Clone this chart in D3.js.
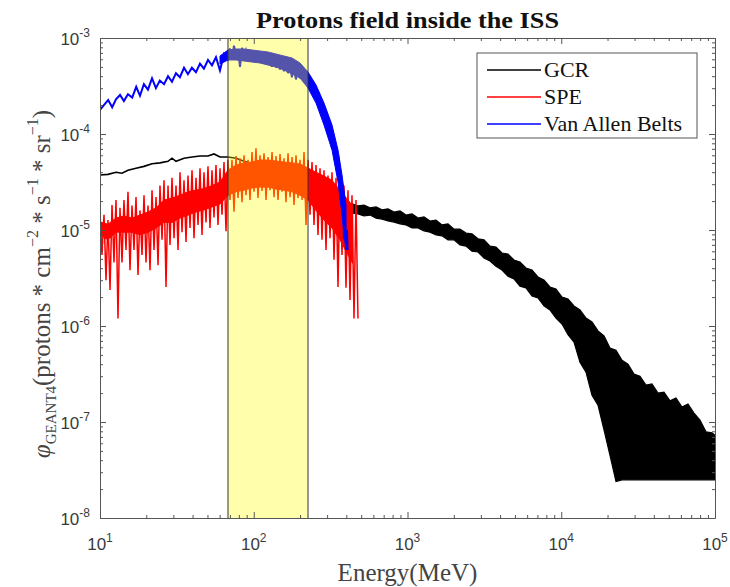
<!DOCTYPE html>
<html>
<head>
<meta charset="utf-8">
<script src="https://cdn.jsdelivr.net/npm/d3@7"></script>
<style>
  body { margin: 0; background: #fff; }
  svg { display: block; }
  .axis path, .axis line { stroke: #555; stroke-width: 1; }
</style>
</head>
<body>
<div id="chart"></div>
<script>
// ticks
const X_TICKS = [10, 100, 1000, 10000, 100000];
const X_TICK_EXP = ["1", "2", "3", "4", "5"];
const Y_TICKS = [1e-8, 1e-7, 1e-6, 1e-5, 1e-4, 1e-3];
const Y_TICK_EXP = ["-8", "-7", "-6", "-5", "-4", "-3"];

// highlighted energy window (MeV)
const BAND = [68, 225.4];

const LEGEND_LABELS = ["GCR", "SPE", "Van Allen Belts"];
const SERIES_COLORS = ["#000000", "#ff0000", "#0000ff"];

// GCR, low energy part [MeV, flux] (hidden under SPE above ~100 MeV)
const gcrHead = [
  [10.0, 3.74e-5], [11.27, 3.8e-5], [12.71, 4.0e-5], [13.9, 3.9e-5], [15.21, 4.2e-5],
  [17.15, 4.4e-5], [19.33, 4.6e-5], [21.79, 4.9e-5], [24.56, 5.0e-5], [27.69, 5.2e-5],
  [29.4, 5.6e-5], [31.22, 5.2e-5], [35.19, 5.6e-5], [39.67, 5.75e-5], [44.72, 5.9e-5],
  [50.4, 5.9e-5], [55.14, 6.2e-5], [60.33, 5.75e-5], [68.01, 5.75e-5], [76.67, 5.6e-5],
  [86.43, 5.2e-5], [94.56, 5.0e-5], [100.4, 4.8e-5]
];

// GCR, high energy part: energies with upper / lower edges of the noisy band
const gcrTailE = [
  435.5, 476.4, 521.3, 570.4, 624.0, 682.6, 746.8, 817.1, 893.9, 977.8,
  1070, 1170, 1281, 1401, 1533, 1676, 1834, 2006, 2195, 2401,
  2627, 2874, 3144, 3439, 3762, 4116, 4503, 4926, 5389, 5896,
  6450, 7056, 7719, 8445, 9239, 10113, 11063, 12104, 13242, 14487,
  15849, 17338, 18969, 20752, 22703, 24836, 27172, 29725, 32520, 35576,
  38920, 42580, 46581, 50962, 55752, 60995, 66728, 72999, 79862, 87370,
  95588, 100000
];
const gcrTailHi = [
  1.87e-5, 1.78e-5, 1.82e-5, 1.70e-5, 1.74e-5, 1.62e-5, 1.66e-5, 1.54e-5, 1.58e-5, 1.43e-5,
  1.47e-5, 1.33e-5, 1.37e-5, 1.24e-5, 1.27e-5, 1.13e-5, 1.16e-5, 1.02e-5, 1.02e-5, 9.3e-6,
  9.1e-6, 8.1e-6, 7.9e-6, 6.8e-6, 6.65e-6, 5.76e-6, 5.62e-6, 4.87e-6, 4.64e-6, 4.02e-6,
  3.83e-6, 3.24e-6, 3.01e-6, 2.55e-6, 2.43e-6, 2.0e-6, 1.91e-6, 1.62e-6, 1.47e-6, 1.21e-6,
  1.10e-6, 8.9e-7, 7.9e-7, 5.9e-7, 5.6e-7, 4.4e-7, 4.0e-7, 3.16e-7, 3.0e-7, 2.43e-7,
  2.49e-7, 2.0e-7, 2.05e-7, 1.66e-7, 1.78e-7, 1.43e-7, 1.54e-7, 1.24e-7, 1.05e-7, 7.9e-8,
  7.7e-8, 7.3e-8
];
const gcrTailLo = [
  1.50e-5, 1.47e-5, 1.40e-5, 1.43e-5, 1.33e-5, 1.30e-5, 1.24e-5, 1.21e-5, 1.16e-5, 1.13e-5,
  1.05e-5, 1.05e-5, 9.8e-6, 9.5e-6, 8.9e-6, 8.7e-6, 7.9e-6, 7.9e-6, 7.0e-6, 6.8e-6,
  6.0e-6, 5.9e-6, 5.1e-6, 4.75e-6, 4.2e-6, 3.83e-6, 3.3e-6, 3.1e-6, 2.6e-6, 2.5e-6,
  2.05e-6, 1.96e-6, 1.62e-6, 1.47e-6, 1.21e-6, 1.05e-6, 8.1e-7, 6.8e-7, 4.2e-7, 3.3e-7,
  1.9e-7, 1.5e-7, 8.3e-8, 4.5e-8, 2.4e-8, 2.5e-8, 2.5e-8, 2.5e-8, 2.5e-8, 2.5e-8,
  2.5e-8, 2.5e-8, 2.5e-8, 2.5e-8, 2.5e-8, 2.5e-8, 2.5e-8, 2.5e-8, 2.5e-8, 2.5e-8,
  2.5e-8, 2.5e-8
];

// SPE dense core: energies with upper / lower edges
const speCoreE = [
  10.0, 11.27, 12.71, 14.32, 16.15, 18.2, 20.52, 23.14, 26.08, 29.4,
  33.15, 37.36, 42.12, 47.47, 53.51, 60.33, 68.01, 76.67, 86.43, 97.44,
  109.8, 123.8, 139.6, 157.4, 177.4, 200.0, 225.4, 254.1, 286.4, 322.9,
  363.9, 410.2, 440.0
];
const speCoreHi = [
  1.21e-5, 1.15e-5, 1.33e-5, 1.4e-5, 1.33e-5, 1.43e-5, 1.54e-5, 1.7e-5, 2.05e-5, 2.15e-5,
  2.3e-5, 2.5e-5, 2.6e-5, 2.7e-5, 2.9e-5, 3.16e-5, 4.2e-5, 4.75e-5, 5.0e-5, 5.1e-5,
  5.36e-5, 5.36e-5, 5.23e-5, 5.1e-5, 5.0e-5, 4.87e-5, 4.42e-5, 4.0e-5, 3.65e-5, 3.3e-5,
  2.6e-5, 2.05e-5, 1.8e-5
];
const speCoreLo = [
  8.9e-6, 7.9e-6, 9.5e-6, 9.5e-6, 9.5e-6, 8.9e-6, 9.5e-6, 1.05e-5, 1.2e-5, 1.2e-5,
  1.33e-5, 1.43e-5, 1.54e-5, 1.62e-5, 1.74e-5, 1.87e-5, 2.3e-5, 2.5e-5, 2.6e-5, 2.74e-5,
  2.8e-5, 2.8e-5, 2.67e-5, 2.6e-5, 2.5e-5, 2.3e-5, 2.05e-5, 1.6e-5, 1.27e-5, 1.05e-5,
  7.9e-6, 5.5e-6, 4.5e-6
];

// SPE [MeV, flux], read as alternating peaks / dips
const spePoints = [
  [10.0, 1.53e-5], [10.3, 5.5e-6], [10.62, 1.44e-5], [10.94, 3.0e-6], [11.27, 1.27e-5],
  [11.62, 2.37e-6], [11.97, 1.82e-5], [12.33, 4.6e-6], [12.71, 2.05e-5], [13.09, 1.2e-6],
  [13.49, 1.7e-5], [13.9, 4.6e-6], [14.32, 2.05e-5], [14.76, 6.2e-6], [15.21, 2.5e-5],
  [15.67, 3.8e-6], [16.15, 1.8e-5], [16.64, 6.2e-6], [17.15, 2.2e-5], [17.67, 3.4e-6],
  [18.2, 1.6e-5], [18.76, 5.5e-6], [19.33, 2.3e-5], [19.92, 4.6e-6], [20.52, 1.8e-5],
  [21.15, 3.8e-6], [21.79, 2.6e-5], [22.45, 6.2e-6], [23.14, 2.2e-5], [23.84, 4.3e-6],
  [24.56, 2.9e-5], [25.31, 7.9e-6], [26.08, 3.3e-5], [26.88, 2.55e-6], [27.69, 2.9e-5],
  [28.54, 7.0e-6], [29.4, 3.5e-5], [30.3, 8.2e-6], [31.22, 2.9e-5], [32.17, 6.2e-6],
  [33.15, 4.0e-5], [34.15, 9.5e-6], [35.19, 3.3e-5], [36.26, 7.5e-6], [37.36, 3.7e-5],
  [38.5, 1.05e-5], [39.67, 4.2e-5], [40.87, 8.2e-6], [42.12, 3.5e-5], [43.4, 1.13e-5],
  [44.72, 4.4e-5], [46.07, 8.9e-6], [47.47, 4.0e-5], [48.92, 1.2e-5], [50.4, 4.6e-5],
  [51.94, 1.05e-5], [53.51, 4.2e-5], [55.14, 1.35e-5], [56.82, 4.75e-5], [58.55, 1.13e-5],
  [60.33, 4.4e-5], [62.16, 1.44e-5], [64.05, 5.1e-5], [66.0, 9.7e-6], [68.01, 5.4e-5],
  [70.08, 2.05e-5], [72.21, 5.4e-5], [74.4, 1.55e-5], [76.67, 5.9e-5], [79.0, 2.15e-5],
  [81.4, 5.6e-5], [83.88, 1.95e-5], [86.43, 6.0e-5], [89.06, 2.3e-5], [91.77, 5.4e-5],
  [94.56, 2.05e-5], [97.44, 6.5e-5], [100.4, 2.5e-5], [103.4, 7.1e-5], [106.6, 2.15e-5],
  [109.8, 6.0e-5], [113.2, 2.55e-5], [116.6, 6.3e-5], [120.2, 2.05e-5], [123.8, 5.75e-5],
  [127.6, 2.6e-5], [131.5, 6.5e-5], [135.5, 2.2e-5], [139.6, 5.9e-5], [143.8, 2.05e-5],
  [148.2, 6.2e-5], [152.7, 2.5e-5], [157.4, 5.6e-5], [162.1, 1.95e-5], [167.1, 6.3e-5],
  [172.2, 2.2e-5], [177.4, 5.75e-5], [182.8, 1.82e-5], [188.3, 6.0e-5], [194.1, 2.15e-5],
  [200.0, 5.4e-5], [206.1, 2.05e-5], [212.3, 6.5e-5], [218.8, 1.13e-5], [225.4, 5.4e-5],
  [232.3, 1.44e-5], [239.3, 5.1e-5], [246.6, 1.13e-5], [254.1, 4.75e-5], [261.8, 8.9e-6],
  [269.8, 4.4e-5], [278.0, 7.9e-6], [286.4, 4.2e-5], [295.1, 6.2e-6], [304.1, 3.7e-5],
  [313.3, 8.2e-6], [322.9, 4.0e-5], [332.7, 4.9e-6], [342.8, 3.5e-5], [353.2, 2.55e-6],
  [363.9, 3.3e-5], [375.0, 5.5e-6], [386.4, 2.9e-5], [398.1, 2.5e-6], [410.2, 2.6e-5],
  [422.7, 1.87e-6], [435.5, 2.3e-5], [448.8, 1.2e-6], [462.4, 2.05e-5], [476.4, 1.2e-6]
];

// Van Allen Belts dense core: energies with upper / lower edges
const vabCoreE = [
  60.33, 68.01, 76.67, 86.43, 97.44, 109.8, 123.8, 139.6, 157.4, 177.4,
  200.0, 225.4, 254.1, 286.4, 322.9, 353.2, 375.0, 398.1
];
const vabCoreHi = [
  6.49e-4, 7.5e-4, 7.68e-4, 7.68e-4, 7.5e-4, 7.32e-4, 7.15e-4, 6.81e-4, 6.49e-4, 6.19e-4,
  5.49e-4, 4.42e-4, 3.24e-4, 2.1e-4, 1.24e-4, 6.81e-5, 3.74e-5, 1.82e-5
];
const vabCoreLo = [
  5.36e-4, 5.9e-4, 5.9e-4, 5.76e-4, 5.62e-4, 5.49e-4, 5.23e-4, 5.0e-4, 4.64e-4, 4.22e-4,
  3.83e-4, 3.01e-4, 2.1e-4, 1.24e-4, 6.81e-5, 3.16e-5, 1.44e-5, 6.2e-6
];

// Van Allen Belts [MeV, flux]
const vabPoints = [
  [10.0, 1.78e-4], [10.6, 2.0e-4], [11.3, 2.26e-4], [12.0, 1.9e-4], [12.7, 2.3e-4],
  [13.5, 2.55e-4], [14.3, 2.2e-4], [15.2, 2.6e-4], [16.2, 2.4e-4], [17.2, 3.1e-4],
  [18.2, 2.5e-4], [19.3, 3.3e-4], [20.5, 2.9e-4], [21.8, 3.8e-4], [23.1, 3.0e-4],
  [24.5, 3.6e-4], [26.1, 3.3e-4], [27.7, 4.0e-4], [29.4, 3.5e-4], [31.2, 4.3e-4],
  [33.1, 3.9e-4], [35.2, 4.9e-4], [37.3, 4.2e-4], [39.6, 4.9e-4], [42.1, 4.4e-4],
  [44.7, 5.4e-4], [47.4, 4.8e-4], [50.4, 5.9e-4], [53.5, 5.2e-4], [56.8, 6.3e-4],
  [60.3, 4.6e-4], [64.0, 6.8e-4], [68.0, 6.0e-4], [69.9, 7.8e-4], [72.2, 6.2e-4],
  [74.4, 8.3e-4], [76.6, 6.6e-4], [79.0, 7.6e-4], [81.4, 5.0e-4], [83.9, 7.9e-4],
  [86.4, 6.3e-4], [89.0, 7.4e-4], [91.7, 6.0e-4], [94.5, 7.5e-4], [97.4, 5.8e-4],
  [100, 7.2e-4], [103, 5.7e-4], [107, 7.0e-4], [110, 5.5e-4], [113, 7.1e-4],
  [117, 5.4e-4], [120, 6.8e-4], [124, 5.3e-4], [127, 6.6e-4], [131, 5.0e-4],
  [136, 6.5e-4], [140, 4.9e-4], [144, 6.3e-4], [148, 4.7e-4], [153, 6.0e-4],
  [157, 4.5e-4], [162, 5.7e-4], [167, 4.3e-4], [172, 5.4e-4], [177, 3.9e-4],
  [182, 5.0e-4], [188, 3.7e-4], [194, 4.6e-4], [200, 3.8e-4], [206, 5.0e-4],
  [212, 3.6e-4], [218, 4.6e-4], [225, 3.1e-4], [232, 4.0e-4], [239, 2.8e-4],
  [246, 3.4e-4], [254, 2.3e-4], [262, 2.8e-4], [270, 1.85e-4], [278, 2.2e-4],
  [286, 1.4e-4], [295, 1.7e-4], [304, 1.0e-4], [313, 1.25e-4], [323, 7.0e-5],
  [333, 8.5e-5], [343, 5.0e-5], [354, 6.0e-5], [364, 3.0e-5], [370, 3.4e-5],
  [376, 1.6e-5], [381, 2.2e-5], [386, 8.0e-6], [392, 1.3e-5], [398, 6.2e-6],
  [404, 1.0e-5], [408, 6.2e-6]
];

const width = 730;
const height = 587;
const plot = { left: 100, right: 715, top: 38, bottom: 518 };
const SERIF = "'Liberation Serif', 'Times New Roman', serif";
const SANS = "'Liberation Sans', Arial, sans-serif";

const svg = d3
  .select("#chart")
  .append("svg")
  .attr("width", width)
  .attr("height", height);

const x = d3.scaleLog().domain([10, 1e5]).range([plot.left, plot.right]);
const y = d3.scaleLog().domain([1e-8, 1e-3]).range([plot.bottom, plot.top]);

svg
  .append("clipPath")
  .attr("id", "clip")
  .append("rect")
  .attr("x", plot.left)
  .attr("y", plot.top)
  .attr("width", plot.right - plot.left)
  .attr("height", plot.bottom - plot.top);

const layer = svg.append("g").attr("clip-path", "url(#clip)");

const line = d3
  .line()
  .x((d) => x(d[0]))
  .y((d) => y(d[1]));

const band = d3
  .area()
  .x((d) => x(d.e))
  .y0((d) => y(d.lo))
  .y1((d) => y(d.hi));

function zipBand(es, his, los) {
  return es.map((e, i) => ({ e, hi: his[i], lo: los[i] }));
}

function drawBand(data, color, sw) {
  layer
    .append("path")
    .datum(data)
    .attr("d", band)
    .attr("fill", color)
    .attr("stroke", color)
    .attr("stroke-width", sw);
}

function drawLine(data, color, sw) {
  layer
    .append("path")
    .datum(data)
    .attr("d", line)
    .attr("fill", "none")
    .attr("stroke", color)
    .attr("stroke-width", sw)
    .attr("stroke-linejoin", "miter");
}

// GCR
drawLine(gcrHead, SERIES_COLORS[0], 1.6);
drawBand(zipBand(gcrTailE, gcrTailHi, gcrTailLo), SERIES_COLORS[0], 1.2);

// SPE
drawBand(zipBand(speCoreE, speCoreHi, speCoreLo), SERIES_COLORS[1], 1);
drawLine(spePoints, SERIES_COLORS[1], 1.5);

// Van Allen Belts
drawBand(zipBand(vabCoreE, vabCoreHi, vabCoreLo), SERIES_COLORS[2], 1);
drawLine(vabPoints, SERIES_COLORS[2], 2);

// highlighted window, drawn over the curves
layer
  .append("rect")
  .attr("x", x(BAND[0]))
  .attr("y", plot.top)
  .attr("width", x(BAND[1]) - x(BAND[0]))
  .attr("height", plot.bottom - plot.top)
  .attr("fill", "#ffff00")
  .attr("fill-opacity", 0.33);
BAND.forEach((e) => {
  svg
    .append("line")
    .attr("x1", x(e))
    .attr("x2", x(e))
    .attr("y1", plot.top)
    .attr("y2", plot.bottom)
    .attr("stroke", "#333")
    .attr("stroke-width", 1);
});

// axes on four sides, ticks pointing inward
function minorOf(majors) {
  const out = [];
  majors.slice(0, -1).forEach((m) => {
    for (let k = 2; k < 10; k++) out.push(m * k);
  });
  return out;
}

function addAxis(axisFn, scale, majors, translate) {
  const g = svg.append("g").attr("class", "axis").attr("transform", translate);
  g.call(axisFn(scale).tickValues(majors).tickSizeInner(-6).tickSizeOuter(0).tickFormat(""));
  const gm = svg.append("g").attr("class", "axis").attr("transform", translate);
  gm.call(axisFn(scale).tickValues(minorOf(majors)).tickSizeInner(-3).tickSizeOuter(0).tickFormat(""));
  gm.select(".domain").remove();
}

addAxis(d3.axisBottom, x, X_TICKS, `translate(0,${plot.bottom})`);
addAxis(d3.axisTop, x, X_TICKS, `translate(0,${plot.top})`);
addAxis(d3.axisLeft, y, Y_TICKS, `translate(${plot.left},0)`);
addAxis(d3.axisRight, y, Y_TICKS, `translate(${plot.right},0)`);

// tick labels 10^n
X_TICKS.forEach((v, i) => {
  const t = svg
    .append("text")
    .attr("x", x(v))
    .attr("y", plot.bottom + 32)
    .attr("text-anchor", "middle")
    .attr("fill", "#3a3a3a")
    .style("font-family", SANS)
    .style("font-size", "17px");
  t.append("tspan").text("10");
  t.append("tspan").attr("dy", -8).style("font-size", "12px").text(X_TICK_EXP[i]);
});

Y_TICKS.forEach((v, i) => {
  const t = svg
    .append("text")
    .attr("x", plot.left - 10)
    .attr("y", y(v) + 7)
    .attr("text-anchor", "end")
    .attr("fill", "#3a3a3a")
    .style("font-family", SANS)
    .style("font-size", "17px");
  t.append("tspan").text("10");
  t.append("tspan").attr("dy", -8).style("font-size", "12px").text(Y_TICK_EXP[i]);
});

// title
svg
  .append("text")
  .attr("x", (plot.left + plot.right) / 2)
  .attr("y", 28)
  .attr("text-anchor", "middle")
  .attr("fill", "#111")
  .style("font-family", SERIF)
  .style("font-weight", "bold")
  .style("font-size", "23px")
  .attr("textLength", 303)
  .attr("lengthAdjust", "spacingAndGlyphs")
  .text("Protons field inside the ISS");

// x label
svg
  .append("text")
  .attr("x", (plot.left + plot.right) / 2)
  .attr("y", 581)
  .attr("text-anchor", "middle")
  .attr("fill", "#444")
  .style("font-family", SERIF)
  .style("font-size", "25px")
  .text("Energy(MeV)");

// y label
const yl = svg
  .append("text")
  .attr("transform", "translate(50,284) rotate(-90)")
  .attr("text-anchor", "middle")
  .attr("fill", "#444")
  .style("font-family", SERIF)
  .style("font-size", "25px");
yl.append("tspan").style("font-style", "italic").text("φ");
yl.append("tspan").attr("dy", 6).style("font-size", "15px").text("GEANT4");
yl.append("tspan").attr("dy", -6).text("(protons * cm");
yl.append("tspan").attr("dy", -12).style("font-size", "16px").text("−2");
yl.append("tspan").attr("dy", 12).text(" * s");
yl.append("tspan").attr("dy", -12).style("font-size", "16px").text("−1");
yl.append("tspan").attr("dy", 12).text(" * sr");
yl.append("tspan").attr("dy", -12).style("font-size", "16px").text("−1");
yl.append("tspan").attr("dy", 12).text(")");

// legend
const legend = svg.append("g").attr("transform", "translate(477,53)");
legend
  .append("rect")
  .attr("width", 220)
  .attr("height", 85)
  .attr("fill", "#fff")
  .attr("stroke", "#555")
  .attr("stroke-width", 1);
LEGEND_LABELS.forEach((label, i) => {
  const ly = 17 + i * 27;
  legend
    .append("line")
    .attr("x1", 10)
    .attr("x2", 64)
    .attr("y1", ly)
    .attr("y2", ly)
    .attr("stroke", SERIES_COLORS[i])
    .attr("stroke-width", 1.5);
  legend
    .append("text")
    .attr("x", 67)
    .attr("y", ly + 7)
    .attr("fill", "#111")
    .style("font-family", SERIF)
    .style("font-size", "22px")
    .text(label);
});
</script>
</body>
</html>
